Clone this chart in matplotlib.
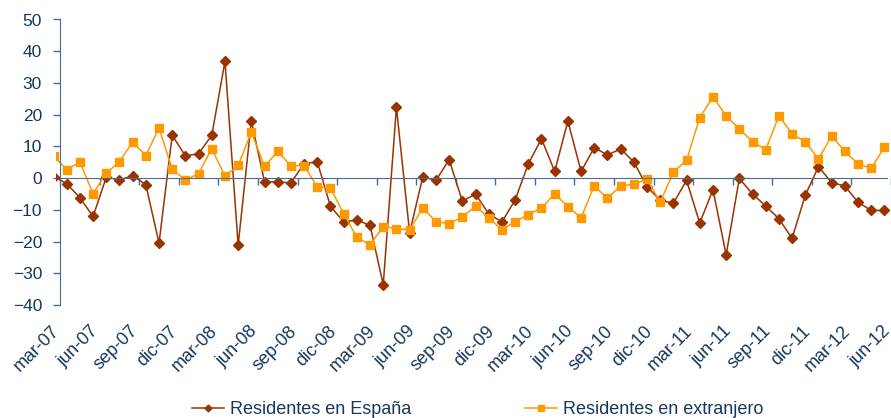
import matplotlib
matplotlib.use('Agg')
import matplotlib.pyplot as plt
from matplotlib.patches import Rectangle
from matplotlib.transforms import ScaledTranslation

plt.rcParams['font.family'] = ['Liberation Sans', 'DejaVu Sans']

# monthly series, mar-07 .. jun-12
meses = ['mar-07', 'abr-07', 'may-07', 'jun-07', 'jul-07', 'ago-07', 'sep-07', 'oct-07', 'nov-07', 'dic-07',
         'ene-08', 'feb-08', 'mar-08', 'abr-08', 'may-08', 'jun-08', 'jul-08', 'ago-08', 'sep-08', 'oct-08',
         'nov-08', 'dic-08', 'ene-09', 'feb-09', 'mar-09', 'abr-09', 'may-09', 'jun-09', 'jul-09', 'ago-09',
         'sep-09', 'oct-09', 'nov-09', 'dic-09', 'ene-10', 'feb-10', 'mar-10', 'abr-10', 'may-10', 'jun-10',
         'jul-10', 'ago-10', 'sep-10', 'oct-10', 'nov-10', 'dic-10', 'ene-11', 'feb-11', 'mar-11', 'abr-11',
         'may-11', 'jun-11', 'jul-11', 'ago-11', 'sep-11', 'oct-11', 'nov-11', 'dic-11', 'ene-12', 'feb-12',
         'mar-12', 'abr-12', 'may-12', 'jun-12']

espana = [0.5, -1.7, -6.2, -12.1, 0.3, -0.6, 0.8, -2.1, -20.5, 13.5,
          7.0, 7.7, 13.5, 36.8, -21.1, 18.0, -1.2, -1.2, -1.5, 4.6,
          5.1, -8.9, -13.8, -13.2, -14.9, -33.6, 22.3, -17.2, 0.4, -0.7,
          5.8, -7.3, -5.0, -11.3, -13.8, -6.9, 4.5, 12.4, 2.1, 18.0,
          2.1, 9.6, 7.3, 9.2, 5.1, -2.7, -7.0, -7.9, -0.7, -14.2,
          -3.6, -24.2, -0.1, -5.0, -8.8, -12.8, -19.0, -5.4, 3.6, -1.4,
          -2.5, -7.6, -10.2, -10.2]

extranjero = [7.0, 2.7, 5.0, -4.9, 1.6, 5.2, 11.4, 7.1, 15.8, 2.8,
              -0.6, 1.4, 9.3, 0.6, 4.0, 14.5, 3.7, 8.4, 3.9, 3.9,
              -2.8, -3.2, -11.2, -18.7, -21.0, -15.3, -15.9, -16.3, -9.4, -13.7,
              -14.4, -12.2, -8.9, -12.5, -16.3, -13.7, -11.5, -9.4, -5.0, -9.0,
              -12.5, -2.4, -6.4, -2.4, -2.0, -0.3, -7.6, 1.9, 5.6, 19.1,
              25.6, 19.6, 15.5, 11.5, 9.0, 19.6, 14.0, 11.4, 6.0, 13.3,
              8.4, 4.5, 3.1, 9.7]

texto = '#17375E'
eje = '#4A6D96'

x = list(range(len(meses)))

fig = plt.figure(figsize=(8.91, 4.18), dpi=100)
ax = fig.add_axes([46 / 891, 1 - 305 / 418, 1 - 46 / 891, (305 - 19.5) / 418])

l1, = ax.plot(x, espana, color='#993300', lw=1.1, marker='D', ms=5, label='Residentes en España')
l2, = ax.plot(x, extranjero, color='#FF9900', lw=1.1, marker='s', ms=5.5, label='Residentes en extranjero')

# plot area starts a little left of the value axis
area = Rectangle((0.19, 0), 100, 1, transform=ax.get_xaxis_transform(), fc='none', ec='none')
ax.add_patch(area)
for ln in (l1, l2):
    ln.set_clip_path(area)

ax.set_ylim(-40, 50)
ax.set_yticks(range(-40, 51, 10))
ax.set_xlim(-0.57, 63.2)

for s in ['top', 'right']:
    ax.spines[s].set_visible(False)
ax.spines['left'].set_position(('data', 0.5))
ax.spines['left'].set_color(eje)
ax.spines['bottom'].set_position(('data', 0))
ax.spines['bottom'].set_bounds(0.5, 63.2)
ax.spines['bottom'].set_color(eje)

# tick marks between categories on the zero line
ax.set_xticks([i + 0.5 for i in range(0, len(meses), 3)])
ax.set_xticklabels([])
ax.tick_params(axis='x', direction='out', length=5, width=1, color=eje)
ax.tick_params(axis='y', direction='out', length=5, width=1, color=eje,
               labelcolor=texto, labelsize=12.5, pad=8)

# month labels at the bottom of the plot area
sec = ax.secondary_xaxis('bottom')
sec.spines['bottom'].set_visible(False)
sec.set_xticks(x[::3])
sec.set_xticklabels(meses[::3], rotation=45, ha='right', va='center',
                    rotation_mode='anchor', color=texto, fontsize=13)
sec.tick_params(axis='x', length=0, pad=17)
desp = ScaledTranslation(3 / 100, 0, fig.dpi_scale_trans)
for lab in sec.get_xticklabels():
    lab.set_transform(lab.get_transform() + desp)

fig.legend(loc='center', bbox_to_anchor=(0.536, 0.02), ncol=2, frameon=False,
           fontsize=13, labelcolor=texto, handlelength=1.8, handletextpad=0.3,
           columnspacing=6.3, markerscale=0.7)

fig.savefig('out.png', dpi=100)
